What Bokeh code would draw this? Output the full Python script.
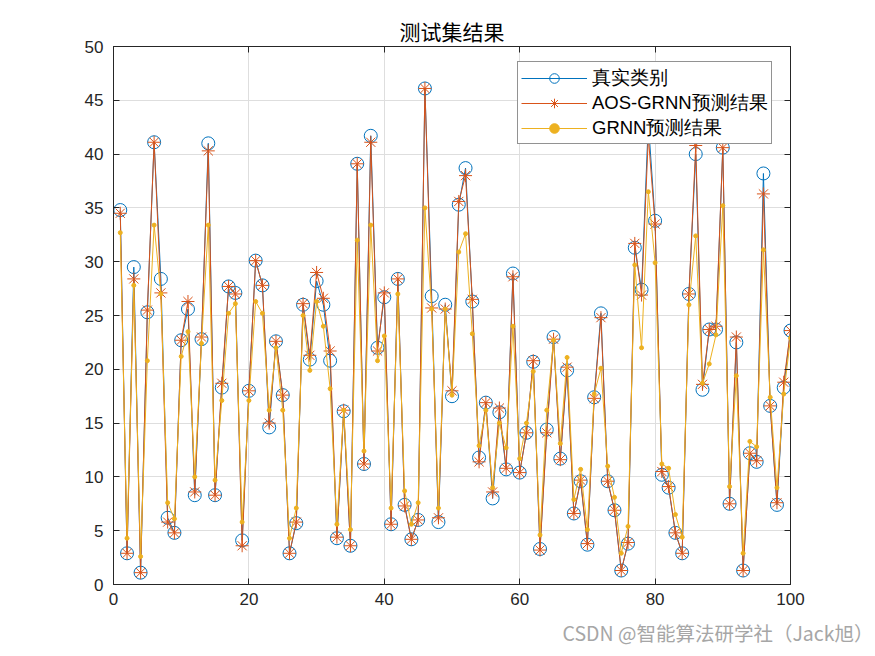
from bokeh.plotting import figure
from bokeh.models import LinearAxis, Range1d, FixedTicker, Legend, Title, CustomJSTickFormatter
from bokeh.embed import file_html
from bokeh.resources import INLINE

idx = list(range(1, 101))

true_vals = [34.8, 2.9, 29.5, 1.1, 25.3, 41.1, 28.4, 6.2, 4.8, 22.7,
             25.6, 8.3, 22.8, 41.0, 8.3, 18.3, 27.7, 27.1, 4.1, 18.0,
             30.1, 27.8, 14.6, 22.6, 17.6, 2.9, 5.7, 26.0, 20.9, 28.2,
             26.0, 20.8, 4.3, 16.1, 3.6, 39.1, 11.2, 41.7, 22.0, 26.7,
             5.6, 28.4, 7.4, 4.2, 6.0, 46.1, 26.8, 5.8, 26.0, 17.5,
             35.3, 38.7, 26.3, 11.8, 16.9, 8.0, 16.0, 10.7, 28.9, 10.4,
             14.1, 20.7, 3.3, 14.4, 23.0, 11.7, 19.9, 6.6, 9.6, 3.7,
             17.4, 25.2, 9.6, 6.9, 1.3, 3.8, 31.3, 27.4, 43.0, 33.8,
             10.2, 9.0, 4.8, 2.9, 27.0, 40.0, 18.1, 23.7, 23.7, 40.6,
             7.5, 22.5, 1.3, 12.2, 11.4, 38.2, 16.6, 7.4, 18.3, 23.6]

aos_vals = [34.5, 2.9, 28.4, 1.1, 25.5, 41.1, 27.1, 5.8, 4.8, 22.7,
            26.3, 8.6, 23.0, 40.3, 8.3, 18.7, 27.7, 27.0, 3.6, 18.0,
            30.1, 27.8, 15.0, 22.6, 17.6, 2.9, 5.8, 26.1, 21.3, 29.0,
            26.6, 21.7, 4.4, 16.2, 3.6, 39.1, 11.2, 41.1, 21.7, 27.1,
            5.6, 28.4, 7.3, 4.2, 6.0, 46.1, 25.7, 6.2, 25.6, 18.0,
            35.6, 38.0, 26.5, 11.4, 16.9, 8.6, 16.4, 10.8, 28.6, 10.4,
            14.1, 20.8, 3.2, 14.1, 22.8, 11.6, 20.2, 6.6, 9.7, 3.8,
            17.3, 24.8, 9.6, 6.9, 1.3, 3.9, 31.7, 26.9, 41.6, 33.5,
            10.5, 9.1, 4.8, 2.9, 27.0, 40.8, 18.6, 23.7, 24.0, 40.6,
            7.5, 23.0, 1.3, 12.2, 11.5, 36.3, 16.6, 7.6, 18.8, 23.6]

grnn_vals = [32.7, 4.3, 27.8, 2.6, 20.8, 33.4, 27.0, 7.6, 6.1, 21.2,
             23.5, 10.0, 22.4, 33.4, 9.7, 17.1, 25.2, 26.1, 5.8, 17.1,
             26.3, 25.2, 16.2, 22.0, 16.2, 4.3, 7.1, 25.0, 19.9, 26.3,
             24.0, 18.2, 5.6, 16.2, 5.1, 32.0, 12.4, 33.4, 20.8, 23.1,
             7.1, 27.0, 8.7, 5.6, 7.6, 35.0, 25.6, 7.1, 25.6, 17.6,
             30.9, 32.6, 23.3, 12.9, 16.2, 9.0, 15.0, 12.7, 24.0, 11.7,
             15.0, 19.8, 4.6, 16.2, 22.7, 13.1, 21.1, 7.9, 10.7, 5.1,
             17.7, 20.1, 11.0, 8.1, 2.9, 5.4, 29.7, 22.0, 36.5, 29.9,
             11.2, 10.8, 6.5, 4.4, 26.0, 32.4, 18.7, 20.5, 23.2, 35.2,
             9.1, 19.4, 2.9, 13.3, 12.8, 31.1, 17.4, 9.0, 17.7, 22.9]

x_ticks = [0, 20, 40, 60, 80, 100]
y_ticks = [0, 5, 10, 15, 20, 25, 30, 35, 40, 45, 50]

title_text = "测试集结果"
series_names = ["真实类别", "AOS-GRNN预测结果", "GRNN预测结果"]
watermark = "CSDN @智能算法研学社（Jack旭）"

BLUE = "#0072BD"
RED = "#D95319"
YELLOW = "#EDB120"
AX = "#262626"
FONT = "Liberation Sans"
CJK = "Noto Sans CJK SC"

p = figure(frame_width=677, frame_height=538, output_backend="svg", toolbar_location=None,
           x_range=Range1d(0, 100), y_range=Range1d(0, 50),
           min_border_left=113, min_border_right=76, min_border_top=46, min_border_bottom=63)
p.background_fill_color = "white"
p.border_fill_color = "white"
p.outline_line_color = AX
p.outline_line_width = 1

p.title.text = title_text
p.title.align = "center"
p.title.text_font = CJK
p.title.text_font_size = "21px"
p.title.text_font_style = "normal"
p.title.text_color = "black"
p.title.standoff = 2

for ax in (p.xaxis[0], p.yaxis[0]):
    ax.axis_line_color = AX
    ax.major_tick_line_color = AX
    ax.major_tick_in = 6
    ax.major_tick_out = 0
    ax.minor_tick_line_color = None
    ax.major_label_text_font = FONT
    ax.major_label_text_font_size = "17px"
    ax.major_label_text_color = AX
p.xaxis[0].ticker = FixedTicker(ticks=x_ticks)
p.yaxis[0].ticker = FixedTicker(ticks=y_ticks)
p.xaxis[0].major_label_standoff = 8
p.yaxis[0].major_label_standoff = 10

blank = CustomJSTickFormatter(code="return ''")
top_ax = LinearAxis(ticker=FixedTicker(ticks=x_ticks), formatter=blank,
                    major_tick_in=6, major_tick_out=0, minor_tick_line_color=None,
                    axis_line_color=AX, major_tick_line_color=AX, major_label_standoff=0)
right_ax = LinearAxis(ticker=FixedTicker(ticks=y_ticks), formatter=blank,
                      major_tick_in=6, major_tick_out=0, minor_tick_line_color=None,
                      axis_line_color=AX, major_tick_line_color=AX, major_label_standoff=0)
p.add_layout(top_ax, "above")
p.add_layout(right_ax, "right")

p.xgrid.ticker = FixedTicker(ticks=x_ticks)
p.ygrid.ticker = FixedTicker(ticks=y_ticks)
p.grid.grid_line_color = "#dedede"
p.grid.grid_line_width = 1

l1 = p.line(idx, true_vals, line_color=BLUE, line_width=1)
m1 = p.scatter(idx, true_vals, marker="circle", size=13, fill_color=None, line_color=BLUE, line_width=1)
l2 = p.line(idx, aos_vals, line_color=RED, line_width=1)
m2 = p.scatter(idx, aos_vals, marker="asterisk", size=13, line_color=RED, line_width=1)
l3 = p.line(idx, grnn_vals, line_color=YELLOW, line_width=1)
m3 = p.scatter(idx, grnn_vals, marker="circle", size=4, fill_color=YELLOW, line_color=YELLOW)

legend = Legend(items=[(series_names[0], [l1, m1]), (series_names[1], [l2, m2]), (series_names[2], [l3, m3])],
                location=(404, 440), orientation="vertical")
legend.label_text_font = FONT
legend.label_text_font_size = "18.5px"
legend.label_text_color = "black"
legend.glyph_width = 66
legend.glyph_height = 24
legend.label_height = 24
legend.label_standoff = 5
legend.spacing = 0
legend.padding = 3
legend.margin = 0
legend.border_line_color = AX
legend.border_line_width = 1
legend.background_fill_color = "white"
legend.background_fill_alpha = 1
p.add_layout(legend, "center")

wm = Title(text=watermark, align="right", offset=-83, text_font=CJK, text_font_size="19.5px",
           text_font_style="normal", text_color="#a6a6a6", standoff=16)
p.add_layout(wm, "below")

open("out.html", "w").write(file_html(p, INLINE))
